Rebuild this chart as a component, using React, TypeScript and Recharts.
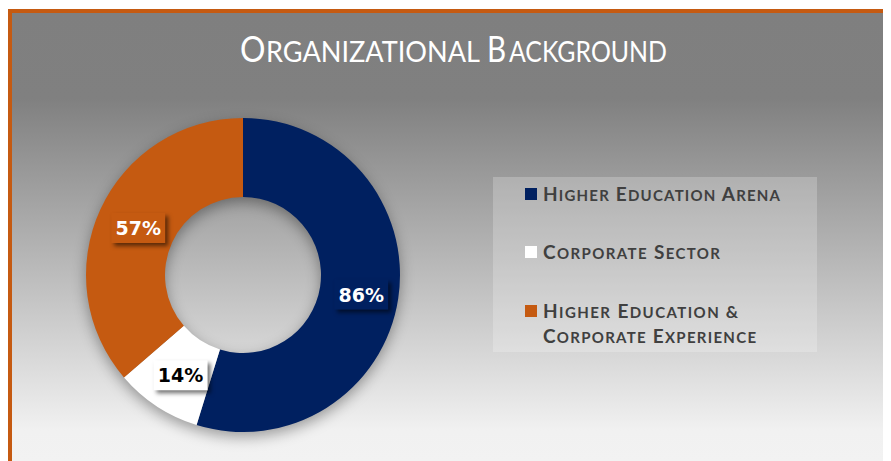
import React from 'react';
import { PieChart, Pie, Cell, Legend } from 'recharts';

const categories = ['Higher Education Arena', 'Corporate Sector', 'Higher Education & Corporate Experience'];
const values = [86, 14, 57];
const colors = ['#002060', '#FFFFFF', '#C55A11'];
const labelColors = ['#FFFFFF', '#000000', '#FFFFFF'];
const legendLines = [['Higher Education Arena'], ['Corporate Sector'], ['Higher Education &', 'Corporate Experience']];
const titleWords = ['Organizational', 'Background'];

const data = categories.map((name, i) => ({ name, value: values[i] }));

const RADIAN = Math.PI / 180;

const SmallCaps = ({ text, big, small }: { text: string; big: number; small: number }) => {
  const parts: React.ReactNode[] = [];
  const words = text.split(' ');
  words.forEach((w, wi) => {
    const first = w.charAt(0);
    const rest = w.slice(1).toUpperCase();
    const isSym = !/[A-Za-z]/.test(first);
    parts.push(
      <tspan key={wi + 'a'} fontSize={isSym ? small + 2 : big}>{(wi > 0 ? ' ' : '') + first}</tspan>
    );
    if (rest) parts.push(<tspan key={wi + 'b'} fontSize={small}>{rest}</tspan>);
  });
  return <>{parts}</>;
};

const renderLabel = (props: any) => {
  const { cx, cy, midAngle, innerRadius, outerRadius, index, value } = props;
  const r = (innerRadius + outerRadius) / 2;
  const x = cx + r * Math.cos(-midAngle * RADIAN);
  const y = cy + r * Math.sin(-midAngle * RADIAN);
  const w = 54;
  const h = 30;
  return (
    <g>
      <rect
        x={x - w / 2 + 2}
        y={y - h / 2 + 2}
        width={w}
        height={h}
        fill={colors[index]}
        style={{ filter: 'drop-shadow(3px 3px 2px rgba(0,0,0,0.55))' }}
      />
      <text
        x={x + 2}
        y={y + 2}
        textAnchor="middle"
        dominantBaseline="central"
        fill={labelColors[index]}
        fontFamily="'DejaVu Sans', sans-serif"
        fontWeight="bold"
        fontSize={19}
      >
        {value}%
      </text>
    </g>
  );
};

const LegendContent = () => {
  const sqY = [11, 69, 128];
  const baselines = [[24], [82], [141, 166]];
  const widths = [[237], [177], [195, 213]];
  return (
    <svg width={324} height={175} style={{ display: 'block' }}>
      <rect x={0} y={0} width={324} height={175} fill="rgba(255,255,255,0.22)" />
      {legendLines.map((lines, i) => (
        <g key={i}>
          <rect x={32} y={sqY[i]} width={12} height={12} fill={colors[i]} />
          {lines.map((ln, j) => (
            <text
              key={j}
              x={50}
              y={baselines[i][j]}
              fill="#404040"
              fontFamily="Lato, sans-serif"
              fontWeight="bold"
              textLength={widths[i][j]}
              lengthAdjust="spacing"
            >
              <SmallCaps text={ln} big={19} small={15} />
            </text>
          ))}
        </g>
      ))}
    </svg>
  );
};

export default function App() {
  // [first-letter x, first-letter scaleX, rest x, rest width]
  const layout = [
    [232, 0.86, 258, 214],
    [479, 0.8, 501, 158],
  ];
  return (
    <div style={{ position: 'relative', width: 883, height: 453, marginTop: 1, overflow: 'hidden' }}>
      <div
        style={{
          position: 'absolute',
          left: 0,
          top: 0,
          width: 883,
          height: 453,
          boxSizing: 'border-box',
          borderTop: '4px solid #C55A11',
          borderLeft: '4px solid #C55A11',
          background: 'linear-gradient(to bottom, #7f7f7f 0%, #808080 19%, #f1f1f1 93%, #f2f2f2 100%)',
        }}
      />
      <style>{`.recharts-pie { filter: drop-shadow(0px 5px 7px rgba(0,0,0,0.35)); }`}</style>
      <svg width={883} height={80} style={{ position: 'absolute', left: 0, top: 0 }}>
        {titleWords.map((w, i) => (
          <g key={w}>
            <text
              transform={`translate(${layout[i][0]},53) scale(${layout[i][1]},1)`}
              x={0}
              y={0}
              fill="#FFFFFF"
              fontFamily="Lato, sans-serif"
              fontSize={37}
            >
              {w.charAt(0)}
            </text>
            <text
              x={layout[i][2]}
              y={53}
              fill="#FFFFFF"
              fontFamily="Lato, sans-serif"
              fontSize={28}
              textLength={layout[i][3]}
              lengthAdjust="spacingAndGlyphs"
            >
              {w.slice(1).toUpperCase()}
            </text>
          </g>
        ))}
      </svg>
      <div style={{ position: 'absolute', left: 0, top: 0 }}>
        <PieChart width={883} height={453} margin={{ top: 0, right: 0, bottom: 0, left: 0 }}>
          <Pie
            data={data}
            dataKey="value"
            nameKey="name"
            cx={235}
            cy={266}
            innerRadius={78}
            outerRadius={157}
            startAngle={90}
            endAngle={-270}
            stroke="none"
            label={renderLabel}
            labelLine={false}
            isAnimationActive={false}
          >
            {data.map((d, i) => (
              <Cell key={d.name} fill={colors[i]} />
            ))}
          </Pie>
          <Legend
            content={<LegendContent />}
            wrapperStyle={{ position: 'absolute', left: 485, top: 168, width: 324, height: 175 }}
          />
        </PieChart>
      </div>
    </div>
  );
}
